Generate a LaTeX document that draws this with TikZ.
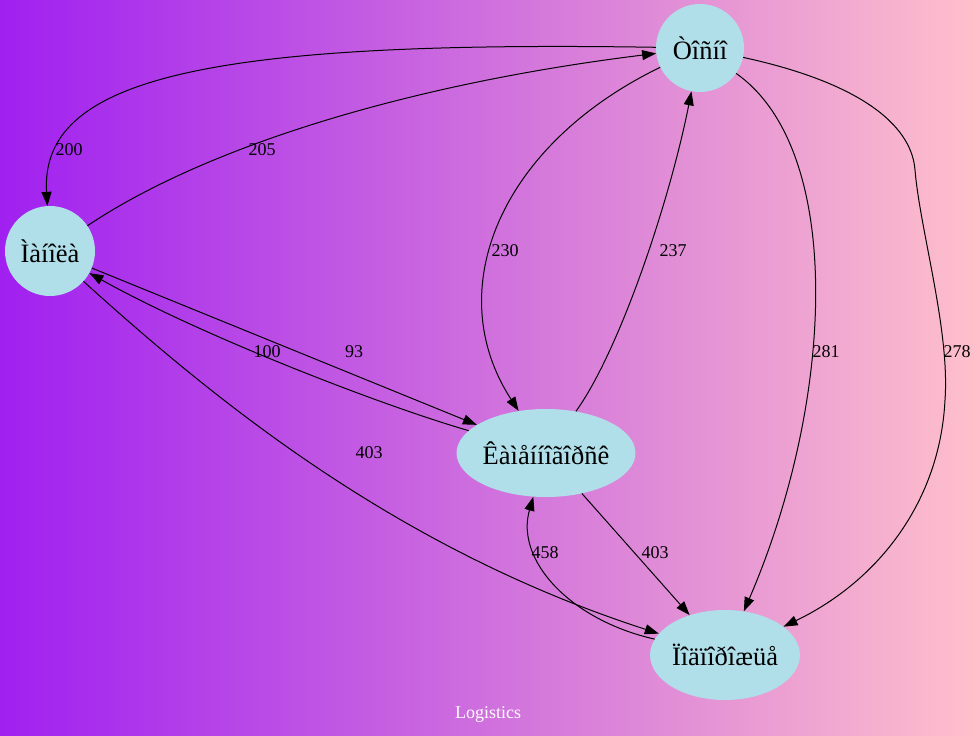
\documentclass[tikz,border=0pt]{standalone}
\usepackage{fontspec}
\setmainfont{Liberation Serif}
\usetikzlibrary{arrows.meta,shapes.geometric}
\definecolor{gvpurple}{HTML}{A020F0}
\definecolor{gvpink}{HTML}{FFC0CB}
\definecolor{nodeblue}{HTML}{B0DFEA}
\begin{document}
\begin{tikzpicture}[x=1pt,y=-1pt,
  city/.style={fill=nodeblue,draw=none,inner sep=0pt,font=\fontsize{26.5}{30}\selectfont},
  round/.style={city,circle,minimum size=88pt},
  oval/.style={city,ellipse,minimum width=#1,minimum height=88pt},
  conn/.style={draw=black,line width=1pt,-{Triangle[length=14pt,width=10pt]}},
  lbl/.style={font=\fontsize{18}{20}\selectfont,inner sep=0pt}]
\shade[left color=gvpurple,right color=gvpink] (0,0) rectangle (978,736);
\useasboundingbox (0,0) rectangle (978,736);

\node[round] (tosno) at (700,48) {Òîñíî};
\node[round,minimum size=90pt] (manola) at (50,251) {Ìàíîëà};
\node[oval=172pt] (kamen) at (546,453) {Êàìåííîãîðñê};
\node[oval=146pt,minimum height=90pt] (podp) at (725,655) {Ïîäïîðîæüå};

% Tosno -> Manola
\draw[conn] (tosno) .. controls (200,40) and (40,80) .. (manola);
\node[lbl] (l200) at (69,150) {200};
% Manola -> Tosno
\draw[conn] (manola) .. controls (200,150) and (400,85) .. (tosno);
\node[lbl] (l205) at (262,150) {205};
% Manola -> Kamen
\draw[conn] (manola) -- (kamen);
\node[lbl] (l93) at (354,352) {93};
% Kamen -> Manola
\draw[conn] (kamen) .. controls (380,405) and (200,335) .. (manola);
\node[lbl] (l100) at (267,352) {100};
% Tosno -> Kamen
\draw[conn] (tosno) .. controls (500,145) and (440,290) .. (kamen);
\node[lbl] (l230) at (505,251) {230};
% Kamen -> Tosno
\draw[conn] (kamen) .. controls (620,350) and (670,200) .. (tosno);
\node[lbl] (l237) at (673,251) {237};
% Tosno -> Podp (281)
\draw[conn] (tosno) .. controls (845,150) and (835,400) .. (podp);
\node[lbl] (l281) at (826,352) {281};
% Tosno -> Podp (278)
\draw[conn] (tosno) .. controls (870,85) and (912,130) .. (915,170)
  .. controls (920,230) and (950,330) .. (945,400)
  .. controls (940,500) and (880,580) .. (podp);
\node[lbl] (l278) at (957,352) {278};
% Manola -> Podp
\draw[conn] (manola) .. controls (220,405) and (400,550) .. (podp);
\node[lbl] (l403a) at (369,453) {403};
% Kamen -> Podp
\draw[conn] (kamen) -- (podp);
\node[lbl] (l403b) at (655,553) {403};
% Podp -> Kamen
\draw[conn] (podp) .. controls (570,620) and (515,560) .. (kamen);
\node[lbl] (l458) at (545,553) {458};

\node[lbl,text=white] (title) at (488,714) {Logistics};
\end{tikzpicture}
\end{document}
